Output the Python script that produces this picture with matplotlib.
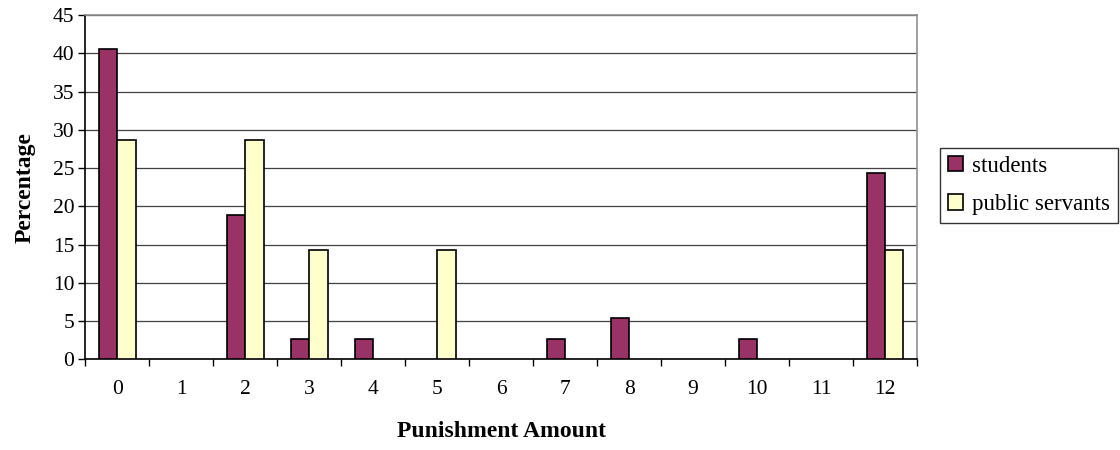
import matplotlib
matplotlib.use("Agg")
import matplotlib.pyplot as plt
import numpy as np

categories = ["0", "1", "2", "3", "4", "5", "6", "7", "8", "9", "10", "11", "12"]
students = [40.5, 0, 18.9, 2.7, 2.7, 0, 0, 2.7, 5.4, 0, 2.7, 0, 24.3]
public_servants = [28.6, 0, 28.6, 14.3, 0, 14.3, 0, 0, 0, 0, 0, 0, 14.3]

plt.rcParams["font.family"] = ["Liberation Serif", "DejaVu Serif"]

W, H = 1120, 450
fig = plt.figure(figsize=(W / 100, H / 100), dpi=100)
left, right, top, bottom = 85.3, 917, 15, 359.3
ax = fig.add_axes([left / W, 1 - bottom / H, (right - left) / W, (bottom - top) / H])

x = np.arange(len(categories))
bw = 0.288


def nonzero(vals):
    # empty categories get no bar outline on the baseline
    return [v if v != 0 else np.nan for v in vals]


ax.bar(x - bw / 2, nonzero(students), bw, color="#993366", edgecolor="black",
       linewidth=1.2, label="students", zorder=3)
ax.bar(x + bw / 2, nonzero(public_servants), bw, color="#FFFFCC", edgecolor="black",
       linewidth=1.2, label="public servants", zorder=3)

ax.set_xlim(-0.5, len(categories) - 0.5)
ax.set_ylim(0, 45)
ax.set_yticks(np.arange(0, 46, 5))
ax.set_xticks(x)
ax.set_xticklabels(categories)
ax.set_xticks(np.arange(-0.5, len(categories), 1), minor=True)
ax.tick_params(axis="x", which="major", length=0, pad=15, labelsize=15.5)
ax.tick_params(axis="x", which="minor", length=5, width=1, color="black", direction="out")
ax.tick_params(axis="y", length=5, width=1, direction="out", labelsize=15.5, pad=3)

ax.yaxis.grid(True, color="#404040", linewidth=0.9, zorder=0)
ax.set_axisbelow(True)
for s in ["top", "right"]:
    ax.spines[s].set_color("#909090")
    ax.spines[s].set_linewidth(1.2)
for s in ["left", "bottom"]:
    ax.spines[s].set_color("black")
    ax.spines[s].set_linewidth(1.2)

ax.set_xlabel("Punishment Amount", fontsize=17, fontweight="bold", labelpad=16)
ax.set_ylabel("Percentage", fontsize=17, fontweight="bold", labelpad=12)

leg = fig.legend(loc="upper left", bbox_to_anchor=(940 / W, 1 - 147.7 / H),
                 fontsize=16.5, frameon=True, fancybox=False, edgecolor="black",
                 handlelength=0.65, handleheight=0.65, handletextpad=0.4,
                 labelspacing=0.75, borderpad=0.35, borderaxespad=0)
leg.get_frame().set_linewidth(1.0)

fig.savefig("out.png", dpi=100)
